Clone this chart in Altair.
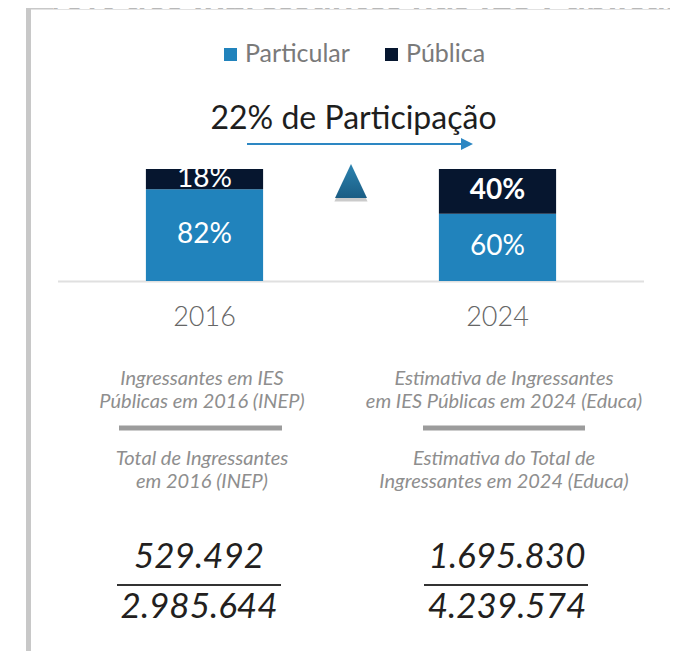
import altair as alt
import pandas as pd

# ---------------- data ----------------
years = ["2016", "2024"]
categorias = ["Particular", "Pública"]
particular = [82, 60]
publica = [18, 40]
cores = ["#2183bc", "#06162f"]

titulo = "40% dos Ingressantes nas IES Públicas"
participacao = "22% de Participação"
desc_sup = ["Ingressantes em IES\nPúblicas em 2016 (INEP)",
            "Estimativa de Ingressantes\nem IES Públicas em 2024 (Educa)"]
desc_inf = ["Total de Ingressantes\nem 2016 (INEP)",
            "Estimativa do Total de\nIngressantes em 2024 (Educa)"]
numeradores = ["529.492", "1.695.830"]
denominadores = ["2.985.644", "4.239.574"]

# ---------------- tables ----------------
rows = []
for i, ano in enumerate(years):
    lo = 0
    for cat, vals in zip(categorias, [particular, publica]):
        v = vals[i]
        rows.append(dict(ano=ano, categoria=cat, valor=v, lo=lo, hi=lo + v,
                         mid=lo + v / 2, rotulo=f"{v}%"))
        lo += v
df = pd.DataFrame(rows)
one = pd.DataFrame({"d": [0]})

W, H = 662, 643
FONT = "Lato"

x_enc = alt.X("ano:N", axis=None,
              scale=alt.Scale(domain=years, range=[50, 636],
                              paddingInner=0.6, paddingOuter=0.3))
y_scale = alt.Scale(domain=[0, 100], range=[273, 161])

layers = []

# title (mostly hidden behind the white card)
layers.append(alt.Chart(pd.DataFrame({"t": [titulo]})).mark_text(
    font=FONT, fontSize=40, fontStyle="italic", fontWeight="bold",
    color="#b8b8b8", align="center", baseline="alphabetic"
).encode(x=alt.value(354), y=alt.value(1.5), text="t:N"))

# white card
layers.append(alt.Chart(one).mark_rect(color="white").encode(
    x=alt.value(23), x2=alt.value(W), y=alt.value(2), y2=alt.value(H)))

# frame
layers.append(alt.Chart(one).mark_rule(color="#e2e2e2", strokeWidth=1).encode(
    x=alt.value(23), x2=alt.value(W), y=alt.value(1.5)))
layers.append(alt.Chart(one).mark_rule(color="#c8c8c8", strokeWidth=5).encode(
    x=alt.value(20.5), y=alt.value(-5), y2=alt.value(H)))
layers.append(alt.Chart(one).mark_rule(color="#c8c8c8", strokeWidth=4).encode(
    x=alt.value(18), x2=alt.value(45), y=alt.value(-1)))

# legend
leg_pos = [(216, 237), (377, 398)]
for (sx, tx), lab, col in zip(leg_pos, categorias, cores):
    layers.append(alt.Chart(one).mark_rect(color=col).encode(
        x=alt.value(sx), x2=alt.value(sx + 13), y=alt.value(40), y2=alt.value(53)))
    layers.append(alt.Chart(pd.DataFrame({"t": [lab]})).mark_text(
        font=FONT, fontSize=25, color="#7a7a7a", align="left", baseline="alphabetic"
    ).encode(x=alt.value(tx), y=alt.value(54), text="t:N"))

# participation text + arrow
layers.append(alt.Chart(pd.DataFrame({"t": [participacao]})).mark_text(
    font=FONT, fontSize=32, color="#1e1e1e", align="center", baseline="alphabetic"
).encode(x=alt.value(345.5), y=alt.value(121), text="t:N"))
layers.append(alt.Chart(one).mark_rule(color="#2d87c3", strokeWidth=2).encode(
    x=alt.value(239), x2=alt.value(457), y=alt.value(136)))
layers.append(alt.Chart(one).mark_point(
    shape="M-1,-1L1,0L-1,1Z", size=144, filled=True, color="#2d87c3", opacity=1
).encode(x=alt.value(459), y=alt.value(136)))

# up triangle with shadow
TRI = "M0,-1.06L1,1.06L-1,1.06Z"
layers.append(alt.Chart(one).mark_point(
    shape=TRI, size=1100, filled=True, color="#6a6a6a", opacity=0.35
).encode(x=alt.value(343), y=alt.value(176)))
grad = alt.LinearGradient(
    gradient="linear",
    stops=[alt.GradientStop(color="#2b83b0", offset=0),
           alt.GradientStop(color="#1b5d84", offset=1)],
    x1=0, x2=0, y1=0, y2=1)
layers.append(alt.Chart(one).mark_point(
    shape=TRI, size=1024, filled=True, fill=grad, opacity=1, strokeWidth=0
).encode(x=alt.value(343), y=alt.value(173)))

# baseline
layers.append(alt.Chart(one).mark_rule(color="#e0e0e0", strokeWidth=2).encode(
    x=alt.value(50), x2=alt.value(636), y=alt.value(273.5)))

# bars
layers.append(alt.Chart(df).mark_bar().encode(
    x=x_enc,
    y=alt.Y("lo:Q", scale=y_scale, axis=None),
    y2="hi:Q",
    color=alt.Color("categoria:N", scale=alt.Scale(domain=categorias, range=cores),
                    legend=None)))

bold_cond = (alt.datum.ano == "2024") & (alt.datum.categoria == "Pública")
layers.append(alt.Chart(df).transform_filter(~bold_cond).mark_text(
    font=FONT, fontSize=28, color="white", baseline="middle"
).encode(x=x_enc, y=alt.Y("mid:Q", scale=y_scale, axis=None), text="rotulo:N"))
layers.append(alt.Chart(df).transform_filter(bold_cond).mark_text(
    font=FONT, fontSize=28, fontWeight="bold", color="white", baseline="middle"
).encode(x=x_enc, y=alt.Y("mid:Q", scale=y_scale, axis=None), text="rotulo:N"))

# year labels
layers.append(alt.Chart(pd.DataFrame({"ano": years})).mark_text(
    font=FONT, fontSize=27, fontWeight=300, color="#666666", baseline="alphabetic"
).encode(x=x_enc, y=alt.value(318), text="ano:N"))

# column annotations
cols = [dict(tc=194, bar=(111, 274), nc=191, fl=(109, 273)),
        dict(tc=496, bar=(415, 577), nc=499, fl=(416, 580))]
for i, c in enumerate(cols):
    layers.append(alt.Chart(pd.DataFrame({"t": [desc_sup[i]]})).mark_text(
        font=FONT, fontSize=20, fontStyle="italic", color="#8e8e8e",
        align="center", baseline="alphabetic", lineBreak="\n", lineHeight=23
    ).encode(x=alt.value(c["tc"]), y=alt.value(377), text="t:N"))
    layers.append(alt.Chart(one).mark_rule(color="#9c9c9c", strokeWidth=5).encode(
        x=alt.value(c["bar"][0]), x2=alt.value(c["bar"][1]), y=alt.value(420)))
    layers.append(alt.Chart(pd.DataFrame({"t": [desc_inf[i]]})).mark_text(
        font=FONT, fontSize=20, fontStyle="italic", color="#8e8e8e",
        align="center", baseline="alphabetic", lineBreak="\n", lineHeight=23
    ).encode(x=alt.value(c["tc"]), y=alt.value(457), text="t:N"))
    layers.append(alt.Chart(pd.DataFrame({"t": [numeradores[i]]})).mark_text(
        font=FONT, fontSize=35, fontStyle="italic", color="#231f20",
        align="center", baseline="alphabetic"
    ).encode(x=alt.value(c["nc"]), y=alt.value(559.5), text="t:N"))
    layers.append(alt.Chart(one).mark_rule(color="#333333", strokeWidth=2).encode(
        x=alt.value(c["fl"][0]), x2=alt.value(c["fl"][1]), y=alt.value(577)))
    layers.append(alt.Chart(pd.DataFrame({"t": [denominadores[i]]})).mark_text(
        font=FONT, fontSize=35, fontStyle="italic", color="#231f20",
        align="center", baseline="alphabetic"
    ).encode(x=alt.value(c["nc"]), y=alt.value(610), text="t:N"))

chart = alt.layer(*layers).properties(
    width=W, height=H, padding=0, background="white",
    autosize=alt.AutoSizeParams(type="none")
).configure_view(stroke=None)

chart.save("out.html", embed_options={"renderer": "svg", "actions": False})
